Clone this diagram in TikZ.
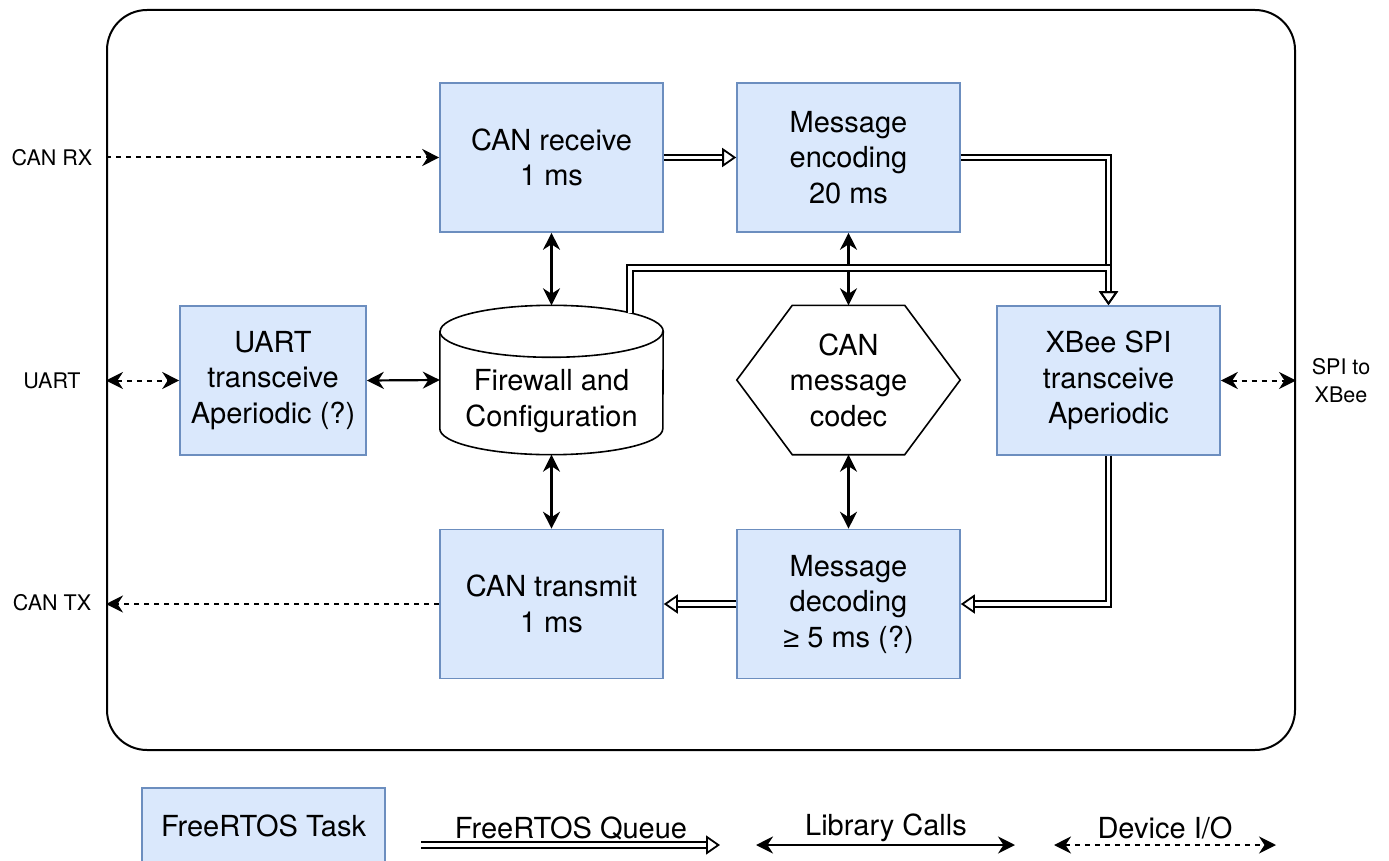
\documentclass[tikz,border=0pt]{standalone}
\usepackage{fontspec}
\setmainfont{TeX Gyre Heros}
\newfontfamily\lsans{Liberation Sans}
\usetikzlibrary{arrows.meta,calc}
\definecolor{taskfill}{HTML}{DAE8FC}
\definecolor{taskdraw}{HTML}{6C8EBF}
\newcommand\fbig{\fontsize{29}{35.5}\selectfont}
\newcommand\fsmall{\fontsize{21.5}{28}\selectfont}
\begin{document}
\begin{tikzpicture}[x=1pt,y=-1pt,
  >={Stealth[length=17pt,width=17pt,inset=5.5pt]},
  task/.style={draw=taskdraw, fill=taskfill, line width=1.6pt, minimum width=223pt, minimum height=149pt, align=center, font=\fbig, inner sep=0pt},
  plain/.style={minimum width=223pt, minimum height=149pt, align=center, font=\fbig, inner sep=0pt},
  shapeline/.style={draw=black, line width=1.6pt, fill=white},
  lib/.style={line width=2.2pt, <->},
  dev/.style={line width=2pt, dash pattern=on 5pt off 5pt},
  queue/.style={double=white, double distance=3.8pt, line width=1.8pt, line join=miter, -{Triangle[open,length=14pt,width=19pt,line width=1.8pt]}},
  io/.style={font=\fsmall, align=center, inner sep=0pt},
  legtext/.style={font=\fbig, inner sep=0pt},
  frame/.style={draw=black, line width=2pt, rounded corners=40pt, minimum width=1188pt, minimum height=740pt, inner sep=0pt}
]
\useasboundingbox (0,0) rectangle (1389,861);

% outer frame
\node[frame] (frame) at (701,380) {};

% tasks
\node[task] (canrx) at (551.5,157.5) {CAN receive\\1 ms};
\node[task] (enc) at (848.5,157.5) {Message\\encoding\\20 ms};
\node[task, minimum width=186pt] (uart) at (273,380.5) {UART\\transceive\\Aperiodic (?)};
\node[task] (xbee) at (1108.5,380.5) {XBee SPI\\transceive\\Aperiodic};
\node[task] (cantx) at (551.5,604) {CAN transmit\\1 ms};
\node[task] (dec) at (848.5,604) {Message\\decoding\\{\lsans ≥} 5 ms (?)};

% firewall cylinder
\node[plain] (fw) at (551.5,380) {};
\path[shapeline] ([yshift=-26pt]fw.north west) -- ([yshift=26pt]fw.south west)
  arc[start angle=180,end angle=360,x radius=111.5pt,y radius=26pt]
  -- ([yshift=-26pt]fw.north east)
  arc[start angle=0,end angle=180,x radius=111.5pt,y radius=26pt] -- cycle;
\draw[line width=1.6pt] ([yshift=-26pt]fw.north west)
  arc[start angle=180,end angle=360,x radius=111.5pt,y radius=26pt];
\node[font=\fbig, align=center, inner sep=0pt] (fwlabel) at (551.5,401) {Firewall and\\Configuration};

% codec hexagon
\node[plain] (codec) at (848.5,380) {};
\draw[shapeline] (codec.west) -- ([xshift=55.5pt]codec.north west) -- ([xshift=-55.5pt]codec.north east)
  -- (codec.east) -- ([xshift=-55.5pt]codec.south east) -- ([xshift=55.5pt]codec.south west) -- cycle;
\node[font=\fbig, align=center, inner sep=0pt] (codeclabel) at (codec.center) {CAN\\message\\codec};

% outside labels
\node[io] (lrx) at (52,158) {CAN RX};
\node[io] (luart) at (52,381) {UART};
\node[io] (ltx) at (52,603) {CAN TX};
\node[io] (lspi) at (1341,381) {SPI to\\XBee};

% device I/O
\coordinate (rxin) at (frame.west |- canrx.west);
\coordinate (uartio) at (frame.west |- uart.west);
\coordinate (txout) at (frame.west |- cantx.west);
\coordinate (spiio) at (frame.east |- xbee.east);
\draw[dev, ->] (rxin) -- (canrx.west);
\draw[dev, <->] (uartio) -- (uart.west);
\draw[dev, ->] (cantx.west) -- (txout);
\draw[dev, <->] (xbee.east) -- (spiio);

% library calls
\draw[lib] (canrx.south) -- (fw.north);
\draw[lib] (fw.south) -- (cantx.north);
\draw[lib] (uart.east) -- (fw.west);
\draw[lib] (enc.south) -- (codec.north);
\draw[lib] (codec.south) -- (dec.north);

% queues
\coordinate (fwq) at ([xshift=78.5pt,yshift=-8pt]fw.north);
\coordinate (qj) at (xbee.north |- 0,268);
\draw[queue] (canrx.east) -- (enc.west);
\draw[queue] (enc.east) -| (xbee.north);
\draw[queue] (fwq) |- (qj) -- (xbee.north);
\draw[queue] (xbee.south) |- (dec.east);
\draw[queue] (dec.west) -- (cantx.east);

% legend
\node[task, minimum width=243pt, minimum height=76pt] (legtask) at (263.5,826) {FreeRTOS Task};
\coordinate (lq1) at (421,845);
\coordinate (lq2) at (720,845);
\draw[queue] (lq1) -- (lq2);
\node[legtext] (lqt) at (571,828) {FreeRTOS Queue};
\coordinate (ll1) at (756,845);
\coordinate (ll2) at (1015,845);
\draw[lib] (ll1) -- (ll2);
\node[legtext] (llt) at (886,828) {Library Calls};
\coordinate (ld1) at (1054,845);
\coordinate (ld2) at (1276,845);
\draw[dev, <->] (ld1) -- (ld2);
\node[legtext] (ldt) at (1165,828) {Device I/O};
\end{tikzpicture}
\end{document}
